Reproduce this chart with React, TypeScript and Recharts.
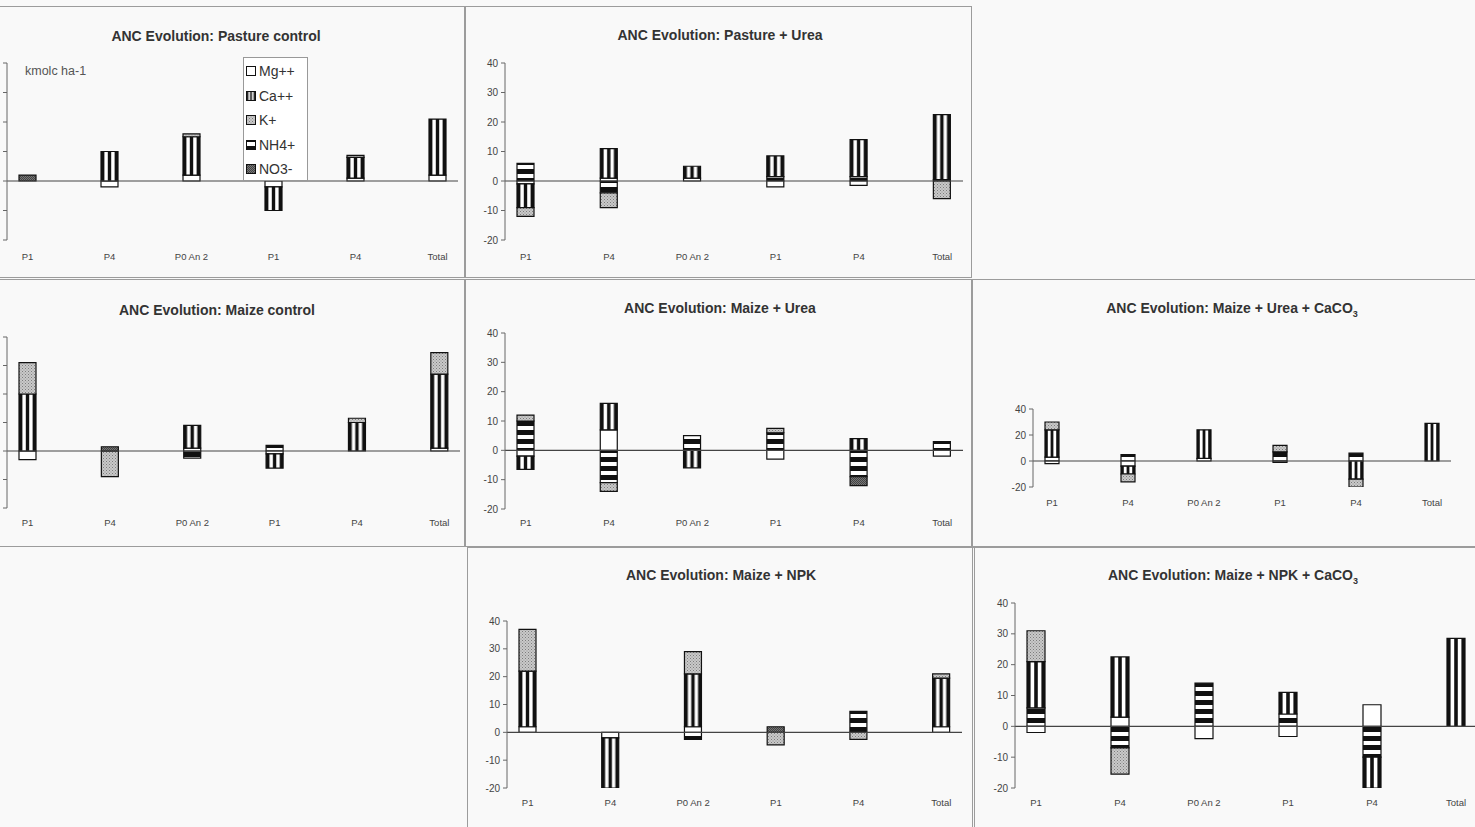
import React from 'react';
import { BarChart, Bar, XAxis, YAxis, ReferenceLine } from 'recharts';

// categories, with an empty slot between two sampled dates (as in the original sheet)
const categories = ['P1', 'P4', 'P0 An 2', 'P1', 'P4', 'Total'];
const slotLabels = categories.flatMap((c, i) => (i < categories.length - 1 ? [c, ''] : [c]));
const ionNames = ['Mg++', 'Ca++', 'K+', 'NH4+', 'NO3-'];
const ticksTen = [-20, -10, 0, 10, 20, 30, 40];
const ticksTwenty = [-20, 0, 20, 40];

type Ions = { nh4: number[]; mg: number[]; ca: number[]; k: number[]; no3: number[] };

// kmolc ha-1
const pastureControl: Ions = {
  nh4: [0, 0, 0, 0, 0, 0],
  mg: [0, -2, 2, -2, 1, 2],
  ca: [0, 10, 13, -8, 7, 19],
  k: [0, 0, 1, 0, 0.7, 0],
  no3: [2, 0, 0, 0, 0, 0],
};
const pastureUrea: Ions = {
  nh4: [6, -4, 0, 1.5, 1.5, 0],
  mg: [-1, 1, 1, -2, -1.5, 0.5],
  ca: [-8, 10, 4, 7, 12.5, 22],
  k: [-3, -5, 0, 0, 0, -6],
  no3: [0, 0, 0, 0, 0, 0],
};
const maizeControl: Ions = {
  nh4: [0, 0, -2.5, 2, 0, 0],
  mg: [-3, 0, 1, -1, 0, 1],
  ca: [20, 0, 8, -5, 10, 26],
  k: [11, -9, 0, 0, 1.5, 7.5],
  no3: [0, 1.5, 0, 0, 0, 0],
};
const maizeUrea: Ions = {
  nh4: [10, -11, 5, 6, -9, 3],
  mg: [-2, 7, 0, -3, 0, -2],
  ca: [-4.5, 9, -6, 0, 4, 0],
  k: [2, -3, 0, 1.5, 0, 0],
  no3: [0, 0, 0, 0, -3, 0],
};
const maizeUreaCaco3: Ions = {
  nh4: [3, 5, 0, 7, 6, 0],
  mg: [-2, -4, 2, -1, 0, 0],
  ca: [21, -6, 22, 0, -14, 29],
  k: [6, -6, 0, 5, -6, 0],
  no3: [0, 0, 0, 0, 0, 0],
};
const maizeNpk: Ions = {
  nh4: [0, 0, -2.5, 0, 7.5, 0],
  mg: [2, -2, 2, 0, 0, 2],
  ca: [20, -18, 19, 0, 0, 17.5],
  k: [15, 0, 8, -4.5, -2.5, 1.5],
  no3: [0, 0, 0, 2, 0, 0],
};
const maizeNpkCaco3: Ions = {
  nh4: [6, -7, 14, 4, -10, 0],
  mg: [-2, 3, -4, -3.3, 7, 0],
  ca: [15, 19.5, 0, 7, -10, 28.5],
  k: [10, -8.5, 0, 0, 0, 0],
  no3: [0, 0, 0, 0, 0, 0],
};

const build = (s: Ions) =>
  slotLabels.map((_, i) => {
    if (i % 2) return { slot: i };
    const j = i / 2;
    return { slot: i, nh4: s.nh4[j], mg: s.mg[j], ca: s.ca[j], k: s.k[j], no3: s.no3[j] };
  });

const FONT = '"Liberation Sans", Arial, sans-serif';

const fills: Record<string, string> = {
  'Mg++': '#ffffff',
  'Ca++': 'url(#pCa)',
  'K+': 'url(#pK)',
  'NH4+': 'url(#pNH4)',
  'NO3-': 'url(#pNO3)',
};

const Sub3 = () => <sub style={{ fontSize: 9 }}>3</sub>;

// the left column of the scan is cropped, so its value labels are not visible
const panels = [
  { title: <>ANC Evolution: Pasture control</>, data: pastureControl, box: [-3, 6, 465, 278], tx: 216, ty: 36,
    axisX: 7, axisEnd: 458, y40: 63, yMin: 240, labelY: 257, barSize: 17, ticks: ticksTen, legend: true, cropped: true },
  { title: <>ANC Evolution: Pasture + Urea</>, data: pastureUrea, box: [465, 6, 972, 278], tx: 720, ty: 35,
    axisX: 505, axisEnd: 963, y40: 63, yMin: 240, labelY: 257, barSize: 17, ticks: ticksTen },
  { title: <>ANC Evolution: Maize control</>, data: maizeControl, box: [-3, 279, 465, 547], tx: 217, ty: 310,
    axisX: 7, axisEnd: 460, y40: 337, yMin: 508, labelY: 523, barSize: 17, ticks: ticksTen, cropped: true },
  { title: <>ANC Evolution: Maize + Urea</>, data: maizeUrea, box: [465, 279, 972, 547], tx: 720, ty: 308,
    axisX: 505, axisEnd: 963, y40: 333, yMin: 509, labelY: 523, barSize: 17, ticks: ticksTen },
  { title: <>ANC Evolution: Maize + Urea + CaCO<Sub3 /></>, data: maizeUreaCaco3, box: [972, 279, 1478, 547], tx: 1232, ty: 308,
    axisX: 1033, axisEnd: 1451, y40: 409, yMin: 487, labelY: 503, barSize: 14, ticks: ticksTwenty },
  { title: <>ANC Evolution: Maize + NPK</>, data: maizeNpk, box: [467, 547, 975, 830], tx: 721, ty: 575,
    axisX: 507, axisEnd: 962, y40: 621, yMin: 788, labelY: 803, barSize: 17, ticks: ticksTen },
  { title: <>ANC Evolution: Maize + NPK + CaCO<Sub3 /></>, data: maizeNpkCaco3, box: [972, 547, 1478, 830], tx: 1233, ty: 575,
    axisX: 1015, axisEnd: 1477, y40: 603, yMin: 788, labelY: 803, barSize: 18, ticks: ticksTen },
];

// bottom-to-top stacking order used in the bars
const stackOrder: [keyof Ions, string][] = [
  ['nh4', 'NH4+'],
  ['mg', 'Mg++'],
  ['ca', 'Ca++'],
  ['k', 'K+'],
  ['no3', 'NO3-'],
];

const Patterns = () => (
  <svg width={0} height={0} style={{ position: 'absolute' }}>
    <defs>
      <pattern id="pCa" patternUnits="objectBoundingBox" patternContentUnits="objectBoundingBox" width={1} height={1}>
        <rect x={0} y={0} width={1} height={1} fill="#111" />
        <rect x={0.2} y={0} width={0.2} height={1} fill="#fff" />
        <rect x={0.6} y={0} width={0.2} height={1} fill="#fff" />
      </pattern>
      <pattern id="pNH4" patternUnits="userSpaceOnUse" width={6} height={9}>
        <rect x={0} y={0} width={6} height={9} fill="#111" />
        <rect x={0} y={2} width={6} height={4} fill="#fff" />
      </pattern>
      <pattern id="pK" patternUnits="userSpaceOnUse" width={3} height={3}>
        <rect x={0} y={0} width={3} height={3} fill="#c9c9c9" />
        <rect x={0} y={0} width={1} height={1} fill="#7d7d7d" />
        <rect x={1.5} y={1.5} width={1} height={1} fill="#8d8d8d" />
      </pattern>
      <pattern id="pNO3" patternUnits="userSpaceOnUse" width={2} height={2}>
        <rect x={0} y={0} width={2} height={2} fill="#777" />
        <rect x={0} y={0} width={1} height={1} fill="#444" />
        <rect x={1} y={1} width={1} height={1} fill="#444" />
      </pattern>
    </defs>
  </svg>
);

const Legend = () => (
  <div style={{ position: 'absolute', left: 243, top: 57, width: 65, height: 124, boxSizing: 'border-box',
    border: '1px solid #999', background: '#fff', fontFamily: FONT, fontSize: 14, color: '#333' }}>
    {ionNames.map((n, i) => (
      <div key={n} style={{ position: 'absolute', left: 2, top: 4 + i * 24.5, height: 18, display: 'flex', alignItems: 'center' }}>
        <svg width={10} height={10} style={{ marginRight: 3 }}>
          <rect x={0.5} y={0.5} width={9} height={9} fill={fills[n]} stroke="#111" strokeWidth={1} />
        </svg>
        {n}
      </div>
    ))}
  </div>
);

const YW = 30;
const MT = 8;
const MR = 4;
const XH = 30;

const Panel = ({ p }: { p: (typeof panels)[number] }) => {
  const [x1, y1, x2, y2] = p.box;
  const plotW = p.axisEnd - p.axisX;
  const plotH = p.yMin - p.y40;
  const yTick = p.cropped ? () => <g /> : { fontSize: 10, fill: '#444', fontFamily: FONT };
  return (
    <>
      <div style={{ position: 'absolute', left: x1, top: y1, width: x2 - x1, height: y2 - y1,
        boxSizing: 'border-box', border: '1.5px solid #9c9c9c' }} />
      <div style={{ position: 'absolute', left: p.tx - 250, top: p.ty - 9, width: 500, textAlign: 'center',
        fontFamily: FONT, fontSize: 14, fontWeight: 'bold', color: '#333', lineHeight: '18px' }}>
        {p.title}
      </div>
      <div style={{ position: 'absolute', left: p.axisX - YW, top: p.y40 - MT }}>
        <BarChart width={YW + plotW + MR} height={MT + plotH + XH} data={build(p.data)} stackOffset="sign"
          margin={{ top: MT, right: MR, bottom: 0, left: 0 }}>
          <XAxis dataKey="slot" type="category" interval={0} axisLine={false} tickLine={false} height={XH}
            tickSize={6} tickMargin={p.labelY - 4 - p.yMin - 6}
            tick={{ fontSize: 9.5, fill: '#444', fontFamily: FONT }}
            tickFormatter={(v: number) => slotLabels[v]} />
          <YAxis width={YW} domain={[-20, 40]} ticks={p.ticks} interval={0} allowDataOverflow
            tickSize={4} tickMargin={3} axisLine={{ stroke: '#666' }} tickLine={{ stroke: '#666' }}
            tick={yTick} />
          <ReferenceLine y={0} stroke="#444" strokeWidth={1.2} />
          {stackOrder.map(([key, name]) => (
            <Bar key={key} dataKey={key} name={name} stackId="ions" barSize={p.barSize}
              fill={fills[name]} stroke="#111" strokeWidth={1.2} isAnimationActive={false} />
          ))}
        </BarChart>
      </div>
      {p.legend && (
        <>
          <div style={{ position: 'absolute', left: 25, top: 64, fontFamily: FONT, fontSize: 12.5, color: '#555' }}>
            kmolc ha-1
          </div>
          <Legend />
        </>
      )}
    </>
  );
};

export default function App() {
  return (
    <div style={{ position: 'fixed', left: 0, top: 0, width: 1475, height: 827, overflow: 'hidden', background: '#f9f9f9' }}>
      <Patterns />
      {panels.map((p, i) => (
        <Panel key={i} p={p} />
      ))}
    </div>
  );
}
